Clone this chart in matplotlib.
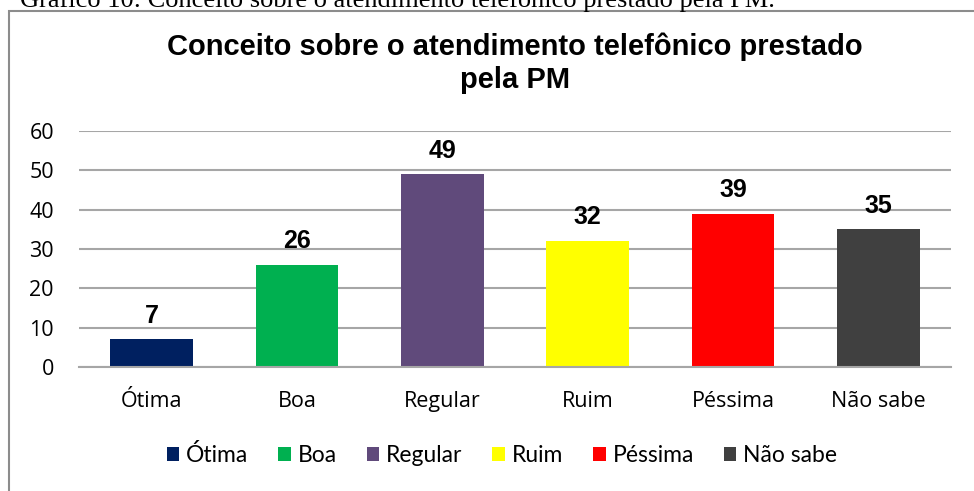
import numpy as np
import matplotlib.pyplot as plt
from matplotlib.patches import Rectangle

# dados do grafico
categorias = ['Ótima', 'Boa', 'Regular', 'Ruim', 'Péssima', 'Não sabe']
valores = [7, 26, 49, 32, 39, 35]
cores = ['#002060', '#00B050', '#604A7B', '#FFFF00', '#FF0000', '#404040']
yticks = [0, 10, 20, 30, 40, 50, 60]

W, H = 974, 491
fig = plt.figure(figsize=(W / 100, H / 100), dpi=100)

# legenda do documento (cortada no topo)
fig.text(20 / W, 1 - 7 / H, 'Gráfico 10: Conceito sobre o atendimento telefônico prestado pela PM.',
         family='Liberation Serif', fontsize=19, va='baseline', ha='left')

# moldura do grafico
fig.patches.append(Rectangle((9 / W, -0.05), 1.2, 1 - 11 / H + 0.05, transform=fig.transFigure,
                             fill=False, edgecolor='#8c8c8c', lw=1.5))

ax = fig.add_axes([79 / W, 1 - 367 / H, (951 - 79) / W, (367 - 131) / H])
x = np.arange(len(categorias))
bars = ax.bar(x, valores, width=0.57, color=cores, label=categorias, zorder=3)

for xi, v in zip(x, valores):
    ax.annotate(str(v), (xi, v), xytext=(0, 12), textcoords='offset points',
                ha='center', va='baseline', fontsize=18, fontweight='bold',
                family='Liberation Sans')

ax.set_xlim(-0.5, len(categorias) - 0.5)
ax.set_ylim(0, 60)
ax.set_yticks(yticks)
ax.set_xticks(x)
ax.set_xticklabels(categorias)
ax.grid(axis='y', color='#a6a6a6', lw=1.5, zorder=0)
for s in ['top', 'right', 'left']:
    ax.spines[s].set_visible(False)
ax.spines['bottom'].set_color('#a6a6a6')
ax.spines['bottom'].set_linewidth(1.5)
ax.spines['bottom'].set_zorder(4)
ax.tick_params(axis='both', length=0, labelsize=15.5)
ax.tick_params(axis='y', pad=18)
ax.tick_params(axis='x', pad=17)
for lab in ax.get_xticklabels() + ax.get_yticklabels():
    lab.set_family('Open Sans')

fig.text(515 / W, 1 - 47 / H, 'Conceito sobre o atendimento telefônico prestado',
         ha='center', va='center', fontsize=21, fontweight='bold', family='Liberation Sans')
fig.text(515 / W, 1 - 80 / H, 'pela PM',
         ha='center', va='center', fontsize=21, fontweight='bold', family='Liberation Sans')

fig.legend(handles=bars, labels=categorias, loc='center', bbox_to_anchor=(502 / W, 1 - 455 / H),
           ncol=6, frameon=False, prop={'family': 'Lato', 'size': 16.5},
           handlelength=0.55, handleheight=0.55, handletextpad=0.3, columnspacing=1.3)

fig.savefig('out.png', dpi=100)
